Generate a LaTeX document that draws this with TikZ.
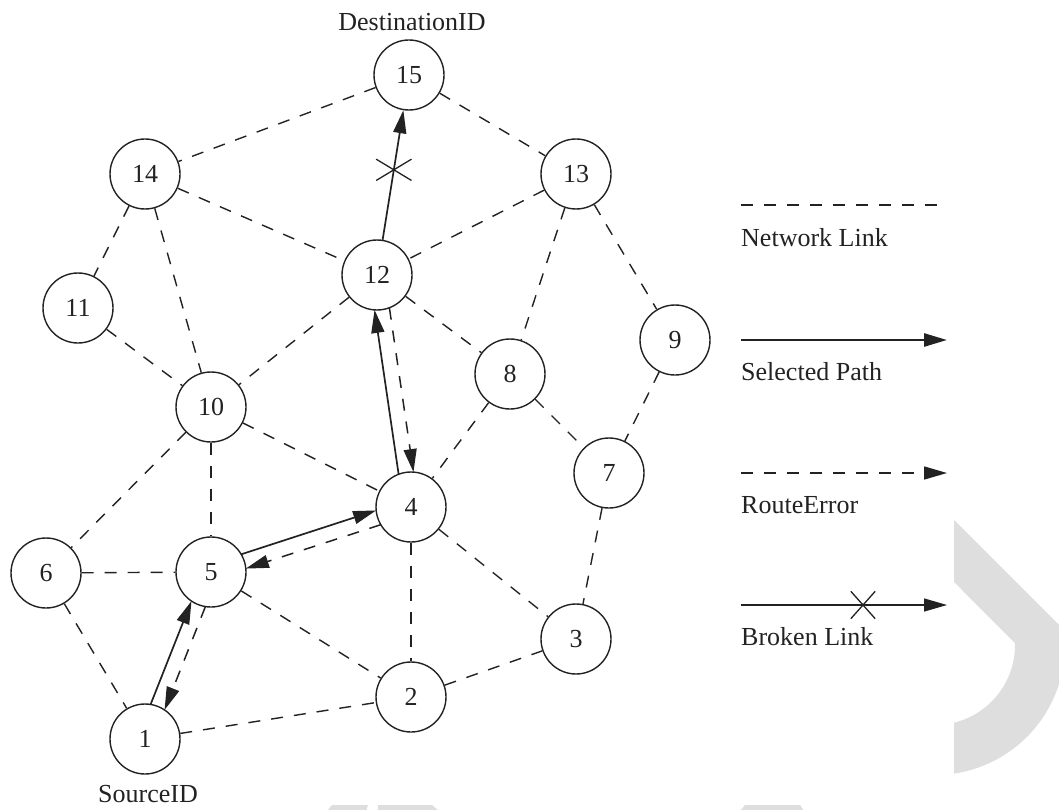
\documentclass[tikz,border=0pt]{standalone}
\usepackage{fontspec}
\setmainfont{Liberation Serif}
\usetikzlibrary{calc,arrows.meta,shapes.misc}
\definecolor{ink}{HTML}{222222}
\definecolor{greyfill}{HTML}{DEDEDE}
\tikzset{
  nd/.style={circle, draw=ink, line width=1.4pt, minimum size=70pt, inner sep=0pt,
    font=\fontsize{26}{30}\selectfont, text=ink},
  lbl/.style={inner sep=0pt, font=\fontsize{26}{30}\selectfont, text=ink},
  netlink/.style={draw=ink, line width=1.4pt, dash pattern=on 12pt off 11pt},
  selpath/.style={draw=ink, line width=1.7pt, -{Triangle[length=23pt,width=13pt]}},
  rerr/.style={draw=ink, line width=1.5pt, dash pattern=on 12pt off 11pt,
    -{Triangle[length=23pt,width=13pt]}},
  trim/.style={shorten <=34.2pt, shorten >=34.2pt},
  brk/.style={cross out, draw=ink, line width=1.3pt, inner sep=0pt, solid},
}
\begin{document}
\begin{tikzpicture}[x=1pt,y=-1pt]
\useasboundingbox (0,0) rectangle (1059,810);
\clip (0,0) rectangle (1059,810);
% background grey shapes
\fill[greyfill] (954,520) -- (1064,630)
  -- plot[domain=-6.6:81.6, samples=40] ({935+130*cos(\x)},{645+130*sin(\x)})
  -- (954,722.7)
  -- plot[domain=76.3:-1.4, samples=40] ({935+80*cos(\x)},{645+80*sin(\x)})
  -- (954,582) -- cycle;
\fill[greyfill] (327,811) -- (332,805) -- (368,805) -- (366,811) -- cycle;
\fill[greyfill] (378,811) -- (378,805) -- (432,805) -- (439,811) -- cycle;
\fill[greyfill] (740,811) -- (745,805) -- (800,805) -- (804,811) -- cycle;

% nodes
\node[nd] (n1)  at (145,739) {1};
\node[nd] (n2)  at (411,697) {2};
\node[nd] (n3)  at (576,639) {3};
\node[nd] (n4)  at (411,507) {4};
\node[nd] (n5)  at (211,572) {5};
\node[nd] (n6)  at (46,573)  {6};
\node[nd] (n7)  at (609,473) {7};
\node[nd] (n8)  at (510,374) {8};
\node[nd] (n9)  at (675,340) {9};
\node[nd] (n10) at (211,407) {10};
\node[nd] (n11) at (78,308)  {11};
\node[nd] (n12) at (377,275) {12};
\node[nd] (n13) at (576,174) {13};
\node[nd] (n14) at (145,174) {14};
\node[nd] (n15) at (409,75)  {15};

\node[lbl] (dst) at (412,22) {DestinationID};
\node[lbl] (src) at (148,794) {SourceID};

% network links
\foreach \a/\b in {15/14,15/13,14/12,13/12,14/11,14/10,13/8,13/9,12/10,12/8,
  11/10,10/6,10/5,10/4,8/4,8/7,9/7,7/3,6/5,6/1,5/2,4/2,4/3,2/3,1/2}
  \draw[netlink] (n\a) -- (n\b);

% selected path and route error pairs
\foreach \a/\b in {1/5,5/4,4/12}{
  \coordinate (sa\a) at ($(n\a.center)!7.5pt!90:(n\b.center)$);
  \coordinate (sb\a) at ($(n\b.center)!7.5pt!-90:(n\a.center)$);
  \coordinate (da\a) at ($(n\a.center)!7.5pt!-90:(n\b.center)$);
  \coordinate (db\a) at ($(n\b.center)!7.5pt!90:(n\a.center)$);
  \draw[selpath, trim] (sa\a) -- (sb\a);
  \draw[rerr, trim] (db\a) -- (da\a);
}
\draw[selpath] (n12) -- (n15) node[brk, pos=0.54, minimum width=34pt, minimum height=20pt] (x1) {};

% legend
\coordinate (l1a) at (741,205); \coordinate (l1b) at (947,205);
\draw[netlink] (l1a) -- (l1b);
\node[lbl, anchor=west] (t1) at (741,238) {Network Link};
\coordinate (l2a) at (741,340); \coordinate (l2b) at (947,340);
\draw[selpath, line width=2.6pt] (l2a) -- (l2b);
\node[lbl, anchor=west] (t2) at (741,372) {Selected Path};
\coordinate (l3a) at (741,473); \coordinate (l3b) at (947,473);
\draw[rerr] (l3a) -- (l3b);
\node[lbl, anchor=west] (t3) at (741,505) {RouteError};
\coordinate (l4a) at (741,605); \coordinate (l4b) at (947,605);
\draw[selpath, line width=1.3pt] (l4a) -- (l4b);
\node[brk, minimum width=23pt, minimum height=26pt] (x2) at (863,605) {};
\node[lbl, anchor=west] (t4) at (741,637) {Broken Link};
\end{tikzpicture}
\end{document}
